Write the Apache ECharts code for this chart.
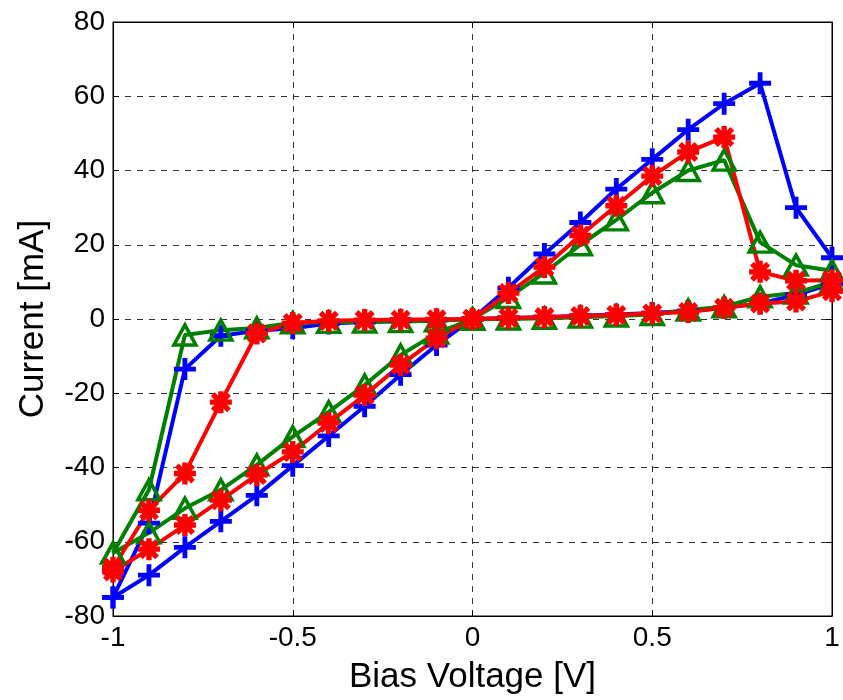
<!DOCTYPE html>
<html>
<head>
<meta charset="utf-8">
<script src="https://cdn.jsdelivr.net/npm/echarts@6/dist/echarts.min.js"></script>
<style>
  html, body { margin: 0; padding: 0; background: #fff; }
  #chart { width: 843px; height: 700px; }
</style>
</head>
<body>
<div id="chart"></div>
<script>
// voltage sweep: 0 -> 1, 1 -> 0, 0 -> -1, -1 -> 0
const voltage = [
  0, 0.1, 0.2, 0.3, 0.4, 0.5, 0.6, 0.7, 0.8, 0.9, 1.0,
  1.0, 0.9, 0.8, 0.7, 0.6, 0.5, 0.4, 0.3, 0.2, 0.1, 0,
  -0.1, -0.2, -0.3, -0.4, -0.5, -0.6, -0.7, -0.8, -0.9, -1.0,
  -1.0, -0.9, -0.8, -0.7, -0.6, -0.5, -0.4, -0.3, -0.2, -0.1, 0
];
const currentBlue = [
  0, 8.4, 17.5, 26, 35, 43, 51, 58, 63.5, 30, 16.5,
  9.5, 6.5, 4.2, 3, 2.2, 1.6, 1.2, 0.9, 0.5, 0.3, 0,
  -0.3, -0.5, -0.8, -1.2, -2.5, -3.2, -4.5, -13.5, -55, -75,
  -75, -69, -61.5, -54.5, -47.5, -39.5, -31.5, -23.5, -15, -7, 0
];
const currentGreen = [
  0, 5.8, 12.4, 20, 26.7, 34, 40, 42.8, 20.7, 14.5, 13,
  10, 7, 6, 3.3, 2.4, 1.2, 0.8, 0.5, 0.2, 0, 0,
  -0.5, -0.7, -0.8, -0.9, -1, -2.4, -3, -4.3, -46, -63,
  -63, -57.6, -51, -46, -39.3, -31.7, -25, -17.8, -9.7, -3.8, 0
];
const currentRed = [
  0, 7, 14, 22.5, 30.5, 38.5, 45, 49, 12.7, 10.3, 10.5,
  7.5, 4.7, 4.2, 3, 1.9, 1.5, 1.1, 0.8, 0.5, 0.3, 0,
  -0.1, -0.2, -0.3, -0.5, -1.1, -3.9, -22.4, -41.6, -51.5, -67,
  -68, -62, -55.5, -48.8, -42, -35.8, -28, -20.5, -12.4, -5.2, 0
];

const font = "'Liberation Sans', Arial, sans-serif";
const plusPath = 'path://M7.8,0H12.2V7.8H20V12.2H12.2V20H7.8V12.2H0V7.8H7.8Z';
const starPath = 'path://M1,7.8H19V12.2H1Z M7.8,1H12.2V19H7.8Z ' +
  'M4.9,1.8L18.2,15.1L15.1,18.2L1.8,4.9Z ' +
  'M1.8,15.1L15.1,1.8L18.2,4.9L4.9,18.2Z';

function pairs(ys) { return voltage.map((v, i) => [v, ys[i]]); }

const chart = echarts.init(document.getElementById('chart'));

const tickStyle = { inside: true, length: 6, lineStyle: { color: '#000', width: 1 } };
const gridLine = { show: true, lineStyle: { color: '#333', width: 1, type: [6, 6] } };

chart.setOption({
  animation: false,
  backgroundColor: '#fff',
  grid: { left: 113, right: 11, top: 22, bottom: 84, show: true, borderColor: '#000', borderWidth: 1 },
  xAxis: [{
    type: 'value', min: -1, max: 1, interval: 0.5,
    name: 'Bias Voltage [V]', nameLocation: 'middle', nameGap: 44,
    nameTextStyle: { fontFamily: font, fontSize: 35, color: '#000' },
    axisLine: { show: true, onZero: false, lineStyle: { color: '#000' } },
    axisTick: tickStyle,
    axisLabel: { fontFamily: font, fontSize: 28, color: '#000', margin: 8 },
    splitLine: gridLine
  }, {
    type: 'value', min: -1, max: 1, interval: 0.5, position: 'top',
    axisLine: { show: true, onZero: false, lineStyle: { color: '#000' } },
    axisTick: tickStyle, axisLabel: { show: false }, splitLine: { show: false }
  }],
  yAxis: [{
    type: 'value', min: -80, max: 80, interval: 20,
    name: 'Current [mA]', nameLocation: 'middle', nameGap: 62, nameRotate: 90,
    nameTextStyle: { fontFamily: font, fontSize: 35, color: '#000' },
    axisLine: { show: true, onZero: false, lineStyle: { color: '#000' } },
    axisTick: tickStyle,
    axisLabel: { fontFamily: font, fontSize: 28, color: '#000', margin: 8 },
    splitLine: gridLine
  }, {
    type: 'value', min: -80, max: 80, interval: 20, position: 'right',
    axisLine: { show: true, onZero: false, lineStyle: { color: '#000' } },
    axisTick: tickStyle, axisLabel: { show: false }, splitLine: { show: false }
  }],
  series: [
    {
      name: 'blue', type: 'line', data: pairs(currentBlue), clip: false,
      symbol: plusPath, symbolSize: 22,
      lineStyle: { color: '#0000ff', width: 4 },
      itemStyle: { color: '#0000ff' }
    },
    {
      name: 'green', type: 'line', data: pairs(currentGreen), clip: false,
      symbol: 'triangle', symbolSize: [22, 20],
      lineStyle: { color: '#008000', width: 4 },
      itemStyle: { color: 'rgba(0,0,0,0)', borderColor: '#008000', borderWidth: 3.5 }
    },
    {
      name: 'red', type: 'line', data: pairs(currentRed), clip: false,
      symbol: starPath, symbolSize: 22,
      lineStyle: { color: '#ff0000', width: 4 },
      itemStyle: { color: '#ff0000' }
    }
  ]
});
</script>
</body>
</html>
